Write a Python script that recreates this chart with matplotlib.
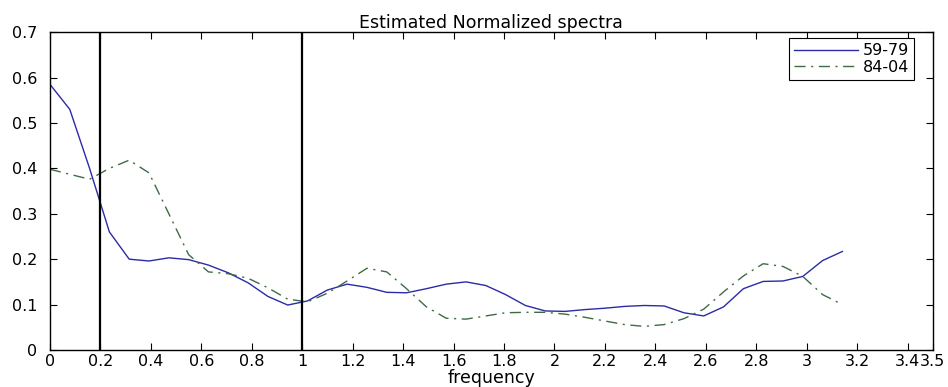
import numpy as np
import matplotlib
matplotlib.use("Agg")
import matplotlib.pyplot as plt

# frequency grid: 41 points from 0 to pi
freq = np.linspace(0, np.pi, 41)

spec_5979 = [0.585, 0.53, 0.40, 0.26, 0.20, 0.196, 0.203, 0.199, 0.187, 0.17,
             0.148, 0.118, 0.099, 0.108, 0.132, 0.145, 0.138, 0.127, 0.126, 0.135,
             0.145, 0.15, 0.142, 0.122, 0.098, 0.086, 0.085, 0.089, 0.092, 0.096,
             0.098, 0.097, 0.082, 0.075, 0.095, 0.135, 0.151, 0.152, 0.162, 0.197,
             0.217]

spec_8404 = [0.398, 0.387, 0.376, 0.40, 0.418, 0.39, 0.30, 0.21, 0.172, 0.168,
             0.158, 0.137, 0.112, 0.106, 0.125, 0.152, 0.18, 0.172, 0.135, 0.095,
             0.07, 0.068, 0.075, 0.082, 0.083, 0.083, 0.079, 0.072, 0.064, 0.056,
             0.052, 0.056, 0.069, 0.09, 0.128, 0.163, 0.19, 0.184, 0.162, 0.122,
             0.10]

band_edges = [0.2, 1.0]
xtick_vals = [0, 0.2, 0.4, 0.6, 0.8, 1, 1.2, 1.4, 1.6, 1.8, 2, 2.2, 2.4, 2.6,
              2.8, 3, 3.2, 3.4, 3.5]
ytick_vals = [0, 0.1, 0.2, 0.3, 0.4, 0.5, 0.6, 0.7]

plt.rcParams["font.family"] = ["DejaVu Sans"]
FS = 11.5

fig = plt.figure(figsize=(9.48, 3.87), dpi=100)
ax = fig.add_axes([0.0527, 0.0956, 0.9313, 0.8214])

ax.plot(freq, spec_5979, color="#2b2ba6", lw=1.0, label="59-79")
ax.plot(freq, spec_8404, color="#3f6b45", lw=1.0, ls=(0, (8, 4, 1.5, 4)),
        label="84-04")
for xv in band_edges:
    ax.axvline(xv, color="black", lw=1.6)

ax.set_xlim(0, 3.5)
ax.set_ylim(0, 0.7)
ax.set_xticks(xtick_vals)
ax.set_xticklabels([f"{v:g}" for v in xtick_vals])
ax.set_yticks(ytick_vals)
ax.set_yticklabels([f"{v:g}" for v in ytick_vals])
ax.tick_params(direction="in", length=5, top=True, right=True, pad=3,
               colors="black", labelsize=FS)
ax.tick_params(axis="y", pad=9)
for sp in ax.spines.values():
    sp.set_linewidth(1.0)

ax.set_title("Estimated Normalized spectra", fontsize=12.5, pad=3)
ax.set_xlabel("frequency", fontsize=12.5, labelpad=0)

leg = ax.legend(loc="upper right", bbox_to_anchor=(0.9785, 0.98),
                borderaxespad=0, fancybox=False, framealpha=1,
                edgecolor="black", handlelength=4.0, borderpad=0.3,
                labelspacing=0.1, handletextpad=0.3, fontsize=FS)
leg.get_frame().set_linewidth(0.8)

fig.savefig("out.png", dpi=100)
